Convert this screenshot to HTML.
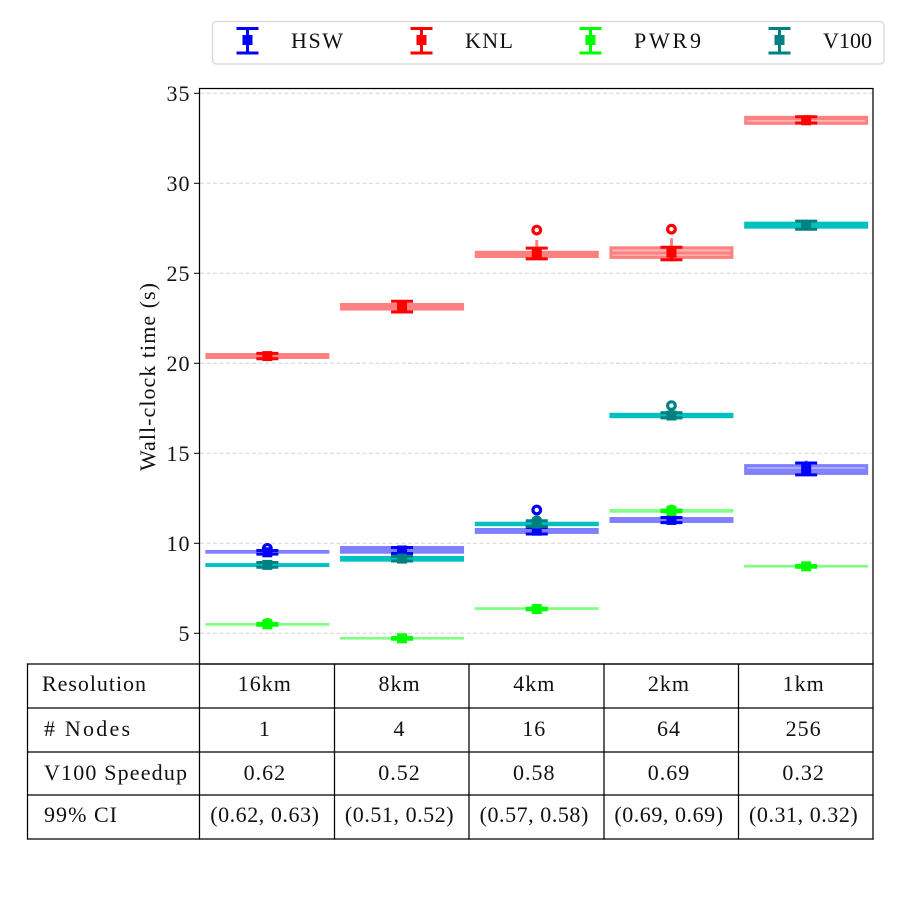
<!DOCTYPE html>
<html lang="en">
<head>
<meta charset="utf-8">
<title>Wall-clock time by resolution</title>
<style>
html,body{margin:0;padding:0;background:#fff;width:900px;height:898px;overflow:hidden}
svg{display:block}
text{font-family:"Liberation Serif",serif;font-size:22px;letter-spacing:1px;fill:#111}
</style>
</head>
<body>
<svg id="chart" xmlns="http://www.w3.org/2000/svg" width="900" height="898" viewBox="0 0 900 898">
  <rect x="212.5" y="21.5" width="671.5" height="42.5" rx="4" fill="#fff" stroke="#d6d6d6" stroke-width="1.2"/>
  <g id="grid"></g>
  <g id="marks"></g>
  <rect x="199.5" y="88.5" width="673.5" height="575.5" fill="none" stroke="#000" stroke-width="1.25"/>
  <g id="yaxis"></g>
  <text transform="translate(155 376.5) rotate(-90)" text-anchor="middle" textLength="189">Wall-clock time (s)</text>
  <g id="legend"></g>
  <g id="table"></g>
</svg>
<script>
const categories = ['16km', '8km', '4km', '2km', '1km'];
const nodeCounts = ['1', '4', '16', '64', '256'];
const speedups = ['0.62', '0.52', '0.58', '0.69', '0.32'];
const confidence = ['(0.62, 0.63)', '(0.51, 0.52)', '(0.57, 0.58)', '(0.69, 0.69)', '(0.31, 0.32)'];
const yTicks = [5, 10, 15, 20, 25, 30, 35];

const hswBoxLow = [9.42, 9.42, 10.52, 11.13, 13.8];
const hswBoxHigh = [9.63, 9.85, 10.85, 11.46, 14.4];
const hswMedian = [9.5, 9.6, 10.65, 11.3, 14.05];
const hswMean = [9.5, 9.6, 10.7, 11.3, 14.1];
const hswCapLow = [9.4, 9.43, 10.52, 11.15, 13.8];
const hswCapHigh = [9.6, 9.77, 10.88, 11.43, 14.46];
const hswWhiskerLow = [9.35, 9.4, 10.5, 11.1, 13.75];
const hswWhiskerHigh = [9.65, 9.85, 11, 11.46, 14.6];
const hswFlier = [9.72, null, 11.85, null, null];

const knlBoxLow = [20.24, 22.93, 25.85, 25.8, 33.25];
const knlBoxHigh = [20.57, 23.35, 26.25, 26.5, 33.75];
const knlMedian = [20.4, 23.15, 26.05, 26.13, 33.6];
const knlMean = [20.4, 23.15, 26.1, 26.15, 33.5];
const knlCapLow = [20.25, 22.85, 25.8, 25.75, 33.35];
const knlCapHigh = [20.55, 23.45, 26.4, 26.45, 33.7];
const knlWhiskerLow = [20.2, 22.85, 25.8, 25.65, 33.3];
const knlWhiskerHigh = [20.6, 23.45, 26.85, 26.95, 33.8];
const knlFlier = [null, null, 27.4, 27.45, null];

const pwrBoxLow = [5.42, 4.65, 6.3, 11.7, 8.65];
const pwrBoxHigh = [5.57, 4.8, 6.45, 11.9, 8.8];
const pwrMedian = [5.5, 4.72, 6.37, 11.8, 8.72];
const pwrMean = [5.5, 4.72, 6.35, 11.8, 8.72];
const pwrCapLow = [5.45, 4.67, 6.3, 11.75, 8.67];
const pwrCapHigh = [5.55, 4.77, 6.4, 11.85, 8.77];
const pwrWhiskerLow = [5.4, 4.62, 6.27, 11.7, 8.62];
const pwrWhiskerHigh = [5.6, 4.82, 6.43, 11.9, 8.82];
const pwrFlier = [5.55, null, null, 11.85, null];

const v100BoxLow = [8.68, 8.98, 10.95, 16.95, 27.48];
const v100BoxHigh = [8.9, 9.3, 11.2, 17.25, 27.87];
const v100Median = [8.8, 9.15, 11.08, 17.12, 27.68];
const v100Mean = [8.8, 9.15, 11.1, 17.1, 27.68];
const v100CapLow = [8.67, 9.02, 10.95, 16.97, 27.45];
const v100CapHigh = [8.93, 9.28, 11.25, 17.25, 27.9];
const v100WhiskerLow = [8.63, 8.95, 10.9, 16.95, 27.4];
const v100WhiskerHigh = [8.97, 9.35, 11.4, 17.5, 27.98];
const v100Flier = [null, null, 11.25, 17.65, null];

const seriesList = [
  {name:'HSW', key:'hsw', main:'#0000ff', box:'#8080ff', light:'#b0b0ff', low:hswBoxLow, high:hswBoxHigh, median:hswMedian, mean:hswMean, capLow:hswCapLow, capHigh:hswCapHigh, wLow:hswWhiskerLow, wHigh:hswWhiskerHigh, flier:hswFlier, legendX:247.5, labelX:291, labelW:53},
  {name:'KNL', key:'knl', main:'#ff0000', box:'#ff8080', light:'#ffb4b4', low:knlBoxLow, high:knlBoxHigh, median:knlMedian, mean:knlMean, capLow:knlCapLow, capHigh:knlCapHigh, wLow:knlWhiskerLow, wHigh:knlWhiskerHigh, flier:knlFlier, legendX:421.5, labelX:465, labelW:49},
  {name:'PWR9', key:'pwr9', main:'#00ff00', box:'#80ff80', light:'#b0ffb0', low:pwrBoxLow, high:pwrBoxHigh, median:pwrMedian, mean:pwrMean, capLow:pwrCapLow, capHigh:pwrCapHigh, wLow:pwrWhiskerLow, wHigh:pwrWhiskerHigh, flier:pwrFlier, legendX:590.5, labelX:634, labelW:68},
  {name:'V100', key:'v100', main:'#008080', box:'#00c0c0', light:'#40d0d0', low:v100BoxLow, high:v100BoxHigh, median:v100Median, mean:v100Mean, capLow:v100CapLow, capHigh:v100CapHigh, wLow:v100WhiskerLow, wHigh:v100WhiskerHigh, flier:v100Flier, legendX:779.5, labelX:823, labelW:50}
];

const NS = 'http://www.w3.org/2000/svg';
const plotLeft = 199.5, plotRight = 873;
const bandWidth = (plotRight - plotLeft) / categories.length;
function xScale(i) { return plotLeft + bandWidth * (i + 0.5) + 0.5; }
function yScale(v) { return 633.3 - (v - 5) * 18; }
function make(parent, tag, attrs, text) {
  const el = document.createElementNS(NS, tag);
  for (const k in attrs) el.setAttribute(k, attrs[k]);
  if (text !== undefined) el.textContent = text;
  parent.appendChild(el);
  return el;
}

const gridG = document.getElementById('grid');
const axisG = document.getElementById('yaxis');
yTicks.forEach(function (t) {
  const g = make(gridG, 'line', {x1: 200, x2: 873, y1: yScale(t), y2: yScale(t), stroke: '#d4d4d4', 'stroke-width': 1, 'stroke-dasharray': '4 2.5'});
  
  
  const m = make(axisG, 'line', {x1: 194, x2: 199.5, y1: yScale(t), y2: yScale(t), stroke: '#000', 'stroke-width': 1});
  
  
  const l = make(axisG, 'text', {x: 190.5, y: yScale(t) + 7.5, 'text-anchor': 'end'}, String(t));
  
  
});

const marksG = document.getElementById('marks');
seriesList.forEach(function (s) {
  categories.forEach(function (cat, i) {
    const cx = xScale(i);
    const top = yScale(s.high[i]);
    const bottom = yScale(s.low[i]);
    const box = make(marksG, 'rect', {x: cx - 62, y: top, width: 124, height: bottom - top, fill: s.box});
    
    
    if (bottom - top > 6.5) {
      const inner = make(marksG, 'rect', {x: cx - 59, y: top + 3, width: 118, height: bottom - top - 6, fill: s.light});
      
      
      const med = make(marksG, 'line', {x1: cx - 59, x2: cx + 59, y1: yScale(s.median[i]), y2: yScale(s.median[i]), stroke: s.box, 'stroke-width': 3});
      
      
    }
  });
});
seriesList.forEach(function (s) {
  categories.forEach(function (cat, i) {
    const cx = xScale(i);
    const whisker = make(marksG, 'line', {x1: cx, x2: cx, y1: yScale(s.wLow[i]), y2: yScale(s.wHigh[i]), stroke: s.box, 'stroke-width': 3});
    
    
    if (s.flier[i] !== null) {
      const fl = make(marksG, 'circle', {cx: cx, cy: yScale(s.flier[i]), r: 3.8, fill: 'none', stroke: s.main, 'stroke-width': 3.2});
      
      
    }
    const stem = make(marksG, 'line', {x1: cx, x2: cx, y1: yScale(s.capLow[i]), y2: yScale(s.capHigh[i]), stroke: s.main, 'stroke-width': 3});
    
    
    [s.capLow[i], s.capHigh[i]].forEach(function (c) {
      const cap = make(marksG, 'line', {x1: cx - 11, x2: cx + 11, y1: yScale(c), y2: yScale(c), stroke: s.main, 'stroke-width': 3});
      
      
    });
    const mean = make(marksG, 'rect', {x: cx - 5, y: yScale(s.mean[i]) - 5, width: 10, height: 10, fill: s.main});
    
    
  });
});

const legendG = document.getElementById('legend');
seriesList.forEach(function (s) {
  const lx = s.legendX;
  const entry = make(legendG, 'g', {});
  
  
  make(entry, 'line', {x1: lx, x2: lx, y1: 28, y2: 53, stroke: s.main, 'stroke-width': 3});
  make(entry, 'line', {x1: lx - 11, x2: lx + 11, y1: 28.5, y2: 28.5, stroke: s.main, 'stroke-width': 3});
  make(entry, 'line', {x1: lx - 11, x2: lx + 11, y1: 53, y2: 53, stroke: s.main, 'stroke-width': 3});
  make(entry, 'rect', {x: lx - 5, y: 35, width: 10, height: 10, fill: s.main});
  make(entry, 'text', {x: s.labelX, y: 48, textLength: s.labelW}, s.name);
});

const tableG = document.getElementById('table');
const rowLines = [664, 708, 752, 795, 839];
const colLines = [27.5, 199.5, 334.5, 469, 604, 738.5, 873];
rowLines.forEach(function (y) {
  const r = make(tableG, 'line', {x1: 27, x2: 873.6, y1: y, y2: y, stroke: '#000', 'stroke-width': 1.25});
  
  
});
colLines.forEach(function (x) {
  const c = make(tableG, 'line', {x1: x, x2: x, y1: 663.4, y2: 839.6, stroke: '#000', 'stroke-width': 1.25});
  
  
});
const rowHeaders = ['Resolution', '# Nodes', 'V100 Speedup', '99% CI'];
const rowHeaderX = [42, 44, 44, 44];
const rowHeaderW = [105, 87, 144, 74];
const rowBaselines = [691, 736, 780, 822];
const rowSpacing = ['1px', '1px', '1px', '0.55px'];
const rowValues = [categories, nodeCounts, speedups, confidence];
rowHeaders.forEach(function (h, r) {
  const head = make(tableG, 'text', {x: rowHeaderX[r], y: rowBaselines[r], textLength: rowHeaderW[r]}, h);
  
  
  rowValues[r].forEach(function (v, i) {
    const cell = make(tableG, 'text', {x: xScale(i) - 2.5, y: rowBaselines[r], 'text-anchor': 'middle', style: 'letter-spacing:' + rowSpacing[r]}, v);
    
    
  });
});
</script>
</body>
</html>
